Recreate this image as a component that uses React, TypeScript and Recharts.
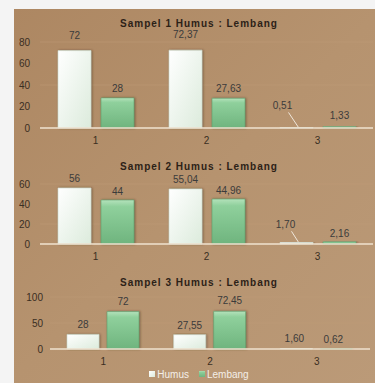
import React from 'react';
import {
  BarChart,
  Bar,
  XAxis,
  YAxis,
  CartesianGrid,
  Legend,
  LabelList,
} from 'recharts';

// categories shared by the three panels
const categories = ['1', '2', '3'];

// Sampel 1
const humus1 = [72, 72.37, 0.51];
const lembang1 = [28, 27.63, 1.33];
const ticks1 = [0, 20, 40, 60, 80];

// Sampel 2
const humus2 = [56, 55.04, 1.7];
const lembang2 = [44, 44.96, 2.16];
const ticks2 = [0, 20, 40, 60];

// Sampel 3
const humus3 = [28, 27.55, 1.6];
const lembang3 = [72, 72.45, 0.62];
const ticks3 = [0, 50, 100];

const buildRows = (humus: number[], lembang: number[]) =>
  categories.map((name, i) => ({ name, Humus: humus[i], Lembang: lembang[i] }));

const fmt = (v: number) => (Number.isInteger(v) ? String(v) : v.toFixed(2).replace('.', ','));

const FONT = 'Liberation Sans, Arial, sans-serif';
const TEXT = '#3a2e22';

// label with optional leader line for the tiny bars
const makeLabel = (offset: number, smallDx: number, smallDy: number, leader: boolean) =>
  (props: any) => {
    const { x, y, width, value } = props;
    const cx = Number(x) + Number(width) / 2;
    const v = Number(value);
    if (v < 5) {
      const tx = cx + smallDx;
      const ty = Number(y) - smallDy;
      return (
        <g>
          {leader && (
            <line x1={tx + 6} y1={ty + 3} x2={cx + 2} y2={Number(y)} stroke="#efe6da" strokeWidth={1} />
          )}
          <text x={tx} y={ty} textAnchor="middle" fontSize={10} fill="#3b3b3b" fontFamily={FONT}>
            {fmt(v)}
          </text>
        </g>
      );
    }
    return (
      <text x={cx} y={Number(y) - offset} textAnchor="middle" fontSize={10} fill="#3b3b3b" fontFamily={FONT}>
        {fmt(v)}
      </text>
    );
  };

const Defs = ({ id }: { id: string }) => (
  <defs>
    <linearGradient id={`hum-${id}`} x1="0" y1="0" x2="1" y2="1">
      <stop offset="0%" stopColor="#ffffff" />
      <stop offset="100%" stopColor="#dcebdc" />
    </linearGradient>
    <linearGradient id={`lem-${id}`} x1="0" y1="0" x2="0" y2="1">
      <stop offset="0%" stopColor="#b4e2bb" />
      <stop offset="15%" stopColor="#8fd09c" />
      <stop offset="100%" stopColor="#6fb47e" />
    </linearGradient>
    <filter id={`sh-${id}`} x="-20%" y="-10%" width="140%" height="120%">
      <feDropShadow dx="1" dy="0" stdDeviation="1" floodColor="#4a3320" floodOpacity="0.55" />
    </filter>
  </defs>
);

interface PanelProps {
  id: string;
  title: string;
  humus: number[];
  lembang: number[];
  ticks: number[];
  top: number;
  height: number;
  margin: { top: number; right: number; bottom: number; left: number };
  yWidth: number;
  tickMargin: number;
  xHeight: number;
  barSize: number;
  barGap: number;
  titleTop: number;
  humusOffset: number;
  lembangOffset: number;
  small: [number, number, number, number];
  leader: boolean;
  legend?: boolean;
}

function Panel(p: PanelProps) {
  const data = buildRows(p.humus, p.lembang);
  return (
    <div style={{ position: 'absolute', left: 0, top: p.top, width: 375, height: p.height }}>
      <div
        style={{
          position: 'absolute',
          top: p.titleTop,
          left: 0,
          width: 398,
          textAlign: 'center',
          fontFamily: FONT,
          fontWeight: 'bold',
          fontSize: 10,
          letterSpacing: 1,
          color: '#2c2117',
          lineHeight: '10px',
        }}
      >
        {p.title}
      </div>
      <BarChart width={375} height={p.height} data={data} margin={p.margin} barSize={p.barSize} barGap={p.barGap}>
        <Defs id={p.id} />
        <CartesianGrid vertical={false} horizontal stroke="#bf9d7a" strokeOpacity={0.5} />
        <XAxis
          dataKey="name"
          height={p.xHeight}
          tickLine={false}
          axisLine={{ stroke: '#efe2cf', strokeWidth: 1.5 }}
          tick={{ fontSize: 10, fill: TEXT, fontFamily: FONT }}
          tickMargin={3}
        />
        <YAxis
          width={p.yWidth}
          domain={[0, p.ticks[p.ticks.length - 1]]}
          ticks={p.ticks}
          tickLine={false}
          axisLine={false}
          tickMargin={p.tickMargin}
          tick={{ fontSize: 10, fill: TEXT, fontFamily: FONT }}
        />
        {p.legend && (
          <Legend
            verticalAlign="bottom"
            align="center"
            iconType="square"
            iconSize={6}
            formatter={(value: string) => (
              <span style={{ color: '#f4efe8', fontSize: 10, fontFamily: FONT, marginLeft: -2 }}>{value}</span>
            )}
            wrapperStyle={{ lineHeight: '14px', paddingLeft: 14 }}
          />
        )}
        <Bar
          dataKey="Humus"
          fill={`url(#hum-${p.id})`}
          stroke="#c9d6c9"
          strokeWidth={0.6}
          filter={`url(#sh-${p.id})`}
          isAnimationActive={false}
          legendType="square"
          color="#f4f4f4"
        >
          <LabelList dataKey="Humus" content={makeLabel(p.humusOffset, p.small[0], p.small[1], p.leader)} />
        </Bar>
        <Bar
          dataKey="Lembang"
          fill={`url(#lem-${p.id})`}
          stroke="#5e9d6c"
          strokeWidth={0.6}
          filter={`url(#sh-${p.id})`}
          isAnimationActive={false}
          legendType="square"
        >
          <LabelList dataKey="Lembang" content={makeLabel(p.lembangOffset, p.small[2], p.small[3], false)} />
        </Bar>
      </BarChart>
    </div>
  );
}

export default function App() {
  return (
    <div
      style={{
        position: 'absolute',
        left: 0,
        top: 0,
        width: 375,
        height: 383,
        background: '#f4f4f4',
        overflow: 'hidden',
      }}
    >
      <div
        style={{
          position: 'absolute',
          left: 14,
          top: 9,
          width: 361,
          height: 374,
          background: 'linear-gradient(135deg, #ad8762 0%, #b6936f 50%, #bb9a78 100%)',
        }}
      />
      <Panel
        id="s1"
        title="Sampel 1 Humus : Lembang"
        humus={humus1}
        lembang={lembang1}
        ticks={ticks1}
        top={0}
        height={150}
        margin={{ top: 42, right: 2, bottom: 2, left: 10 }}
        yWidth={30}
        tickMargin={4}
        xHeight={20}
        barSize={33}
        barGap={10}
        titleTop={19}
        humusOffset={12}
        lembangOffset={6}
        small={[-14, 18, 0, 8]}
        leader
      />
      <Panel
        id="s2"
        title="Sampel 2 Humus : Lembang"
        humus={humus2}
        lembang={lembang2}
        ticks={ticks2}
        top={150}
        height={120}
        margin={{ top: 34, right: 2, bottom: 12, left: 10 }}
        yWidth={30}
        tickMargin={4}
        xHeight={14}
        barSize={33}
        barGap={10}
        titleTop={12}
        humusOffset={6}
        lembangOffset={5}
        small={[-11, 14, 0, 5]}
        leader
      />
      <Panel
        id="s3"
        title="Sampel 3 Humus : Lembang"
        humus={humus3}
        lembang={lembang3}
        ticks={ticks3}
        top={260}
        height={123}
        margin={{ top: 37, right: 5, bottom: 1, left: 10 }}
        yWidth={40}
        tickMargin={1}
        xHeight={17}
        barSize={32}
        barGap={8}
        titleTop={18}
        humusOffset={6}
        lembangOffset={7}
        small={[-2, 6, -3, 6]}
        leader={false}
        legend
      />
    </div>
  );
}
